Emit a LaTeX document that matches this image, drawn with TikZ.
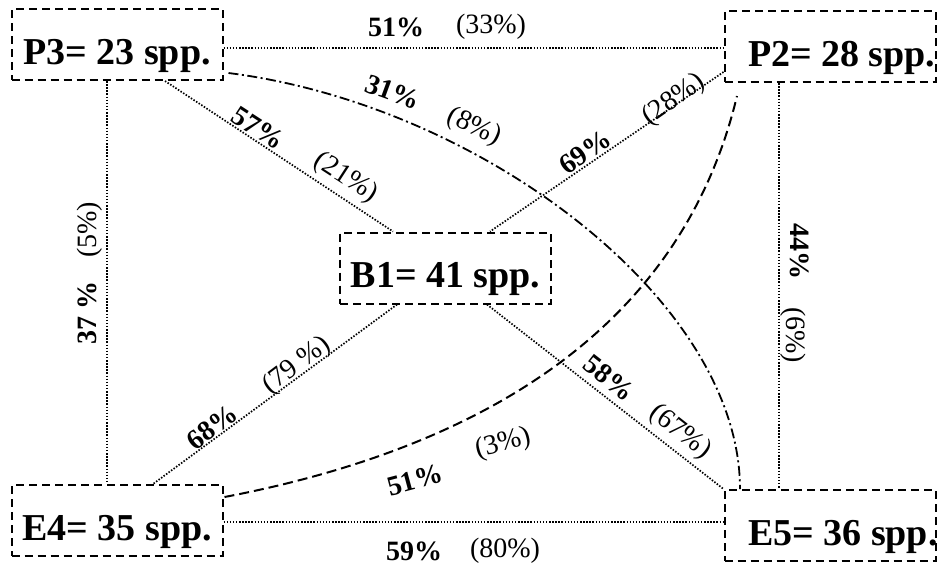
\documentclass[tikz,border=0pt]{standalone}
\usepackage{fontspec}
\setmainfont{Liberation Serif}
\usetikzlibrary{calc}
\begin{document}
\begin{tikzpicture}[x=1pt,y=-1pt,
  box/.style={draw, line width=2pt, dash pattern=on 8pt off 5pt,
    minimum width=211pt, minimum height=71pt, inner xsep=0pt, inner ysep=9pt,
    text height=46pt, text depth=7pt, font=\fontsize{38}{40}\selectfont\bfseries},
  link/.style={line width=1.7pt, dash pattern=on 1.5pt off 1.6pt},
  dashdotlink/.style={line width=1.8pt, dash pattern=on 10pt off 3.5pt on 2pt off 3.5pt},
  dashlink/.style={line width=2pt, dash pattern=on 10pt off 5pt},
  bl/.style={font=\fontsize{28}{30}\selectfont\bfseries, inner sep=0pt},
  nl/.style={font=\fontsize{28}{30}\selectfont, inner sep=0pt}]
\useasboundingbox (0,0) rectangle (939,566);

% boxes
\node[box] (P3) at (117,44.5) {P3= 23 spp.};
\node[box] (P2) at (830,46.5) {\makebox[164pt][l]{P2= 28 spp.}};
\node[box] (B1) at (445.5,268) {B1= 41 spp.};
\node[box] (E4) at (117,520.5) {E4= 35 spp.};
\node[box] (E5) at (830,525.5) {\makebox[164pt][l]{E5= 36 spp.}};

% straight dotted connectors
\draw[link] ([yshift=-3.5pt]P3.east) -- ([yshift=-1.5pt]P2.west);
\draw[link] ([yshift=-1.5pt]E4.east) -- ([yshift=3.5pt]E5.west);
\draw[link] ([xshift=-10pt]P3.south) -- ([xshift=-10pt]E4.north);
\draw[link] ([xshift=-51pt]P2.south) -- ([xshift=-51pt]E5.north);
\draw[link] ([xshift=48pt]P3.south) -- ([xshift=-52.5pt]B1.north);
\draw[link] ([yshift=-25.5pt]P2.west) -- ([xshift=44.5pt]B1.north);
\draw[link] ([xshift=-48.5pt]B1.south) -- ([xshift=36pt]E4.north);
\draw[link] ([xshift=41.5pt]B1.south) -- (E5.north west);

% curved connectors
\draw[dashdotlink] ([shift={(5pt,-28.5pt)}]P3.east) .. controls +(253,32) and +(0,-188) .. ([xshift=-90pt]E5.north);
\draw[dashlink] ([shift={(1pt,23.5pt)}]E4.east) .. controls +(230,-44) and +(-60,250) .. ([shift={(-93pt,-13pt)}]P2.south);

% labels
\node[bl] (l1a) at (396,27) {51\%};
\node[nl] (l1b) at (491,27) {(33\%)};
\node[bl,rotate=-20] (l2a) at (393,92) {31\%};
\node[nl,rotate=-25] (l2b) at (474,127) {(8\%)};
\node[bl,rotate=-33] (l3a) at (258,128) {57\%};
\node[nl,rotate=-33] (l3b) at (346,178) {(21\%)};
\node[bl,rotate=35] (l4a) at (585,152) {69\%};
\node[nl,rotate=35] (l4b) at (674,100) {(28\%)};
\node[bl,rotate=90] (l5a) at (87,313) {37 \%};
\node[nl,rotate=90] (l5b) at (90,230) {(5\%)};
\node[bl,rotate=-90] (l6a) at (800,251) {44\%};
\node[nl,rotate=-90] (l6b) at (793,335) {(6\%)};
\node[bl,rotate=37] (l7a) at (212,427) {68\%};
\node[nl,rotate=37] (l7b) at (297,366) {(79 \%)};
\node[bl,rotate=-38] (l8a) at (609,378) {58\%};
\node[nl,rotate=-38] (l8b) at (680,432) {(67\%)};
\node[bl,rotate=15] (l9a) at (415,480) {51\%};
\node[nl,rotate=15] (l9b) at (503,444) {(3\%)};
\node[bl] (l10a) at (414,551) {59\%};
\node[nl] (l10b) at (505,551) {(80\%)};
\end{tikzpicture}
\end{document}
